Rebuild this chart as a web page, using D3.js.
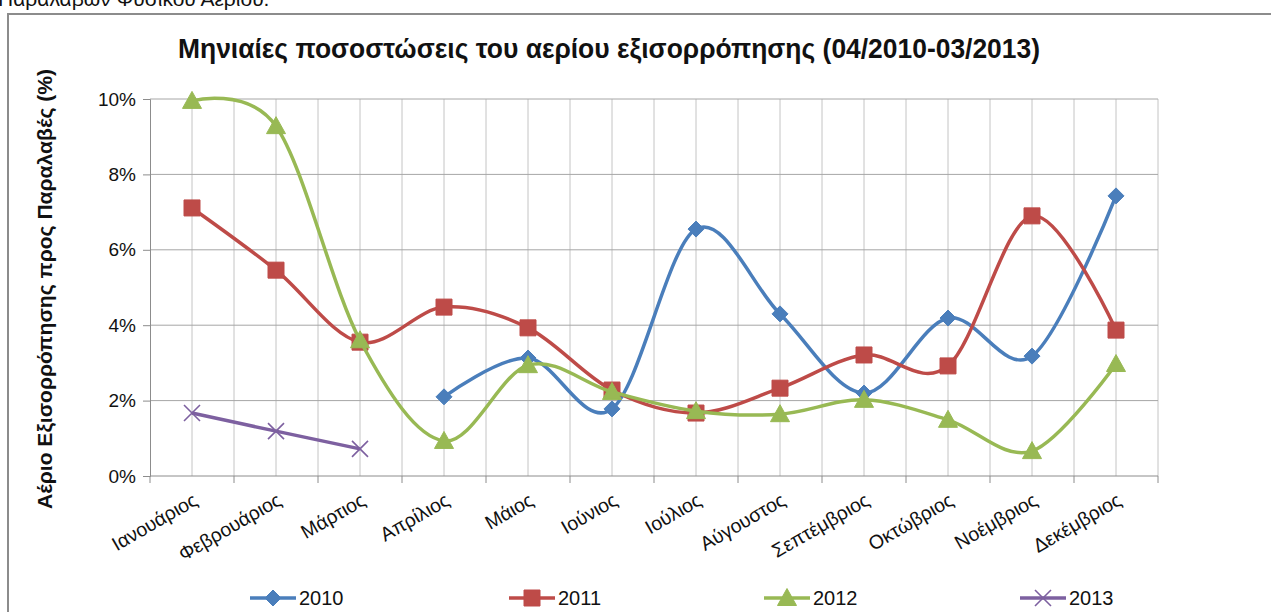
<!DOCTYPE html>
<html>
<head>
  <meta charset="utf-8">
  <title>Μηνιαίες ποσοστώσεις</title>
  <style type="text/css">
    body { margin: 0; background: #fff; }
    svg { display: block; font-family: "Liberation Sans Narrow", "Arial Narrow", "Liberation Sans", Arial, sans-serif; }
  </style>
</head>
<body>
<svg id="vis" width="1271" height="612"></svg>

<script src="https://cdnjs.cloudflare.com/ajax/libs/d3/7.8.5/d3.min.js"></script>
<script type="text/javascript">
  // months on the x axis
  var months = ['Ιανουάριος', 'Φεβρουάριος', 'Μάρτιος', 'Απρίλιος', 'Μάιος', 'Ιούνιος',
                'Ιούλιος', 'Αύγουστος', 'Σεπτέμβριος', 'Οκτώβριος', 'Νοέμβριος', 'Δεκέμβριος']

  // values in %, null where the year has no data
  var values2010 = [null, null, null, 2.10, 3.13, 1.78, 6.55, 4.30, 2.20, 4.19, 3.18, 7.43]
  var values2011 = [7.11, 5.46, 3.55, 4.48, 3.93, 2.28, 1.67, 2.33, 3.21, 2.92, 6.90, 3.87]
  var values2012 = [9.95, 9.28, 3.60, 0.93, 2.94, 2.23, 1.72, 1.64, 2.02, 1.49, 0.66, 2.97]
  var values2013 = [1.67, 1.19, 0.72, null, null, null, null, null, null, null, null, null]

  var seriesNames = ['2010', '2011', '2012', '2013']
  var yTicks = [0, 2, 4, 6, 8, 10]

  var series = [
    { name: seriesNames[0], values: values2010, color: '#4a7ebb', marker: 'diamond' },
    { name: seriesNames[1], values: values2011, color: '#be4b48', marker: 'square' },
    { name: seriesNames[2], values: values2012, color: '#98b954', marker: 'triangle' },
    { name: seriesNames[3], values: values2013, color: '#7d60a0', marker: 'cross' }
  ]

  var svg = d3.select('#vis')
  var margin = { top: 99, right: 113, bottom: 136, left: 150 }
  var W = +svg.attr('width'), H = +svg.attr('height')

  // text above the chart box, cut at the top like in the source page
  svg.append('text')
    .attr('x', -2).attr('y', 6)
    .style('font-family', '"Liberation Sans", Arial, sans-serif')
    .style('font-size', '21px')
    .attr('fill', '#111')
    .text('Παραλαβών Φυσικού Αερίου.')

  // chart box
  svg.append('rect')
    .attr('x', 8).attr('y', 14)
    .attr('width', W + 20).attr('height', H + 20)
    .attr('fill', 'none')
    .attr('stroke', '#8c8c8c')
    .attr('stroke-width', 2)

  var xScale = d3.scaleBand()
    .domain(months)
    .range([margin.left, W - margin.right])

  var yScale = d3.scaleLinear()
    .domain([0, 10])
    .range([H - margin.bottom, margin.top])

  function cx(m) { return xScale(m) + xScale.bandwidth() / 2 }

  // gridlines
  var grid = svg.append('g')
  var vLines = []
  months.forEach(function(m) { vLines.push(xScale(m)); vLines.push(cx(m)) })
  vLines.push(W - margin.right)
  grid.selectAll('line.v')
    .data(vLines.slice(1))
    .enter().append('line')
      .attr('x1', function(d) { return d }).attr('x2', function(d) { return d })
      .attr('y1', yScale(10)).attr('y2', yScale(0))
      .attr('stroke', '#c4c4c4').attr('stroke-width', 1)
  grid.selectAll('line.h')
    .data(yTicks.slice(1))
    .enter().append('line')
      .attr('x1', margin.left).attr('x2', W - margin.right)
      .attr('y1', function(d) { return yScale(d) }).attr('y2', function(d) { return yScale(d) })
      .attr('stroke', '#a6a6a6').attr('stroke-width', 1)

  // y axis
  var yAxis = svg.append('g')
    .attr('transform', 'translate(' + margin.left + ',0)')
    .call(d3.axisLeft(yScale).tickValues(yTicks).tickSize(7).tickPadding(7)
      .tickFormat(function(d) { return d + '%' }))
  yAxis.selectAll('path, line').attr('stroke', '#8c8c8c')
  yAxis.selectAll('text').style('font-size', '19px').attr('fill', '#111')

  // x axis
  var xAxis = svg.append('g')
    .attr('transform', 'translate(0,' + yScale(0) + ')')
  xAxis.append('line')
    .attr('x1', margin.left).attr('x2', W - margin.right)
    .attr('stroke', '#8c8c8c')
  xAxis.selectAll('line.tick')
    .data(months.map(function(m) { return xScale(m) }).concat([W - margin.right]))
    .enter().append('line')
      .attr('x1', function(d) { return d }).attr('x2', function(d) { return d })
      .attr('y1', 0).attr('y2', 7)
      .attr('stroke', '#8c8c8c')
  xAxis.selectAll('text')
    .data(months)
    .enter().append('text')
      .attr('transform', function(d) { return 'translate(' + (cx(d) + 7) + ',28) rotate(-30)' })
      .attr('text-anchor', 'end')
      .style('font-size', '19.5px')
      .attr('fill', '#111')
      .text(function(d) { return d })

  // lines
  var line = d3.line()
    .defined(function(d) { return d.v != null })
    .x(function(d) { return cx(d.m) })
    .y(function(d) { return yScale(d.v) })
    .curve(d3.curveCatmullRom.alpha(0))

  function markerPath(type) {
    if (type == 'diamond') return 'M0,-8L8,0L0,8L-8,0Z'
    if (type == 'square') return 'M-8,-8H8V8H-8Z'
    if (type == 'triangle') return 'M0,-9.5L9.5,7.5H-9.5Z'
    return 'M-8,-8L8,8M8,-8L-8,8'
  }

  function drawMarker(g, s) {
    var p = g.append('path').attr('d', markerPath(s.marker))
    if (s.marker == 'cross') {
      p.attr('fill', 'none').attr('stroke', s.color).attr('stroke-width', 1.6)
    } else {
      p.attr('fill', s.color).attr('stroke', s.color).attr('stroke-width', 1)
    }
  }

  series.forEach(function(s) {
    var pts = s.values.map(function(v, i) { return { m: months[i], v: v } })
    svg.append('path')
      .datum(pts)
      .attr('d', line)
      .attr('fill', 'none')
      .attr('stroke', s.color)
      .attr('stroke-width', 3.5)
      .attr('stroke-linejoin', 'round')
    pts.filter(function(d) { return d.v != null }).forEach(function(d) {
      var g = svg.append('g').attr('transform', 'translate(' + cx(d.m) + ',' + yScale(d.v) + ')')
      drawMarker(g, s)
    })
  })

  // title
  svg.append('text')
    .attr('x', 609).attr('y', 58)
    .attr('text-anchor', 'middle')
    .attr('textLength', 862).attr('lengthAdjust', 'spacingAndGlyphs')
    .style('font-size', '28px').style('font-weight', 'bold')
    .attr('fill', '#111')
    .text('Μηνιαίες ποσοστώσεις του αερίου εξισορρόπησης (04/2010-03/2013)')

  // y axis title
  svg.append('text')
    .attr('transform', 'translate(52,289) rotate(-90)')
    .attr('text-anchor', 'middle')
    .attr('textLength', 440).attr('lengthAdjust', 'spacingAndGlyphs')
    .style('font-size', '21px').style('font-weight', 'bold')
    .attr('fill', '#111')
    .text('Αέριο Εξισορρόπησης προς Παραλαβές (%)')

  // legend
  var legendX = [250, 509, 764, 1020]
  series.forEach(function(s, i) {
    var g = svg.append('g').attr('transform', 'translate(' + legendX[i] + ',598)')
    g.append('line').attr('x1', 0).attr('x2', 46)
      .attr('stroke', s.color).attr('stroke-width', 3.5)
    var mg = g.append('g').attr('transform', 'translate(23,0)')
    drawMarker(mg, s)
    g.append('text').attr('x', 49).attr('y', 7)
      .style('font-size', '20px').attr('fill', '#111')
      .text(s.name)
  })
</script>
</body>
</html>
